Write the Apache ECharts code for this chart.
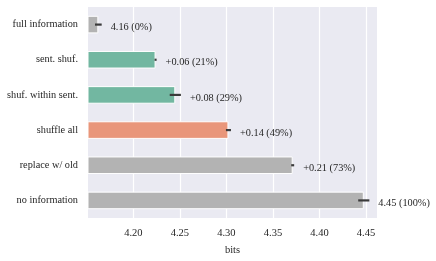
<!DOCTYPE html>
<html><head><meta charset="utf-8">
<script src="https://cdn.jsdelivr.net/npm/echarts@6/dist/echarts.min.js"></script>
<style>html,body{margin:0;padding:0;background:#fff}#c{width:436px;height:261px}</style>
</head><body><div id="c"></div>
<script>
const categories = ["full information","sent. shuf.","shuf. within sent.","shuffle all","replace w/ old","no information"];
const values = [4.1624, 4.2239, 4.2451, 4.3022, 4.3712, 4.4476];
const errors = [0.0036, 0.0011, 0.0060, 0.0027, 0.0016, 0.0060];
const valueLabels = ["4.16 (0%)","+0.06 (21%)","+0.08 (29%)","+0.14 (49%)","+0.21 (73%)","4.45 (100%)"];
const colors = ["#b3b3b3","#72b7a1","#72b7a1","#e9967a","#b3b3b3","#b3b3b3"];
const tickValues = [4.20, 4.25, 4.30, 4.35, 4.40, 4.45];
const axisMin = 4.1513, axisMax = 4.4618;
const FONT = '"Liberation Serif", "DejaVu Serif", serif';

const chart = echarts.init(document.getElementById('c'), null, {renderer:'canvas'});
chart.setOption({
  animation:false,
  backgroundColor:'#ffffff',
  grid:{left:88, right:59, top:7, bottom:40, backgroundColor:'#eaeaf2', show:true, borderWidth:0},
  xAxis:{
    type:'value', min:axisMin, max:axisMax,
    name:'bits', nameLocation:'middle', nameGap:27,
    nameTextStyle:{fontFamily:FONT, fontSize:10.5, color:'#262626'},
    axisLine:{show:false}, axisTick:{show:false, customValues:tickValues},
    axisLabel:{customValues:tickValues, fontFamily:FONT, fontSize:10.5, color:'#262626', margin:10,
      formatter:v=>v.toFixed(2)},
    splitLine:{show:true, lineStyle:{color:'#ffffff', width:1.2}}
  },
  yAxis:{
    type:'category', data:categories, inverse:true,
    axisLine:{show:false}, axisTick:{show:false},
    axisLabel:{fontFamily:FONT, fontSize:10.3, color:'#262626', margin:10},
    splitLine:{show:false}
  },
  series:[
    {
      type:'bar', barWidth:'50%',
      data: values.map((v,i)=>({value:v, itemStyle:{color:colors[i], borderColor:'#ffffff', borderWidth:1}})),
      z:2
    },
    {
      type:'custom', z:5,
      data: values.map((v,i)=>[i, v, errors[i], valueLabels[i]]),
      renderItem:(params, api)=>{
        const i = api.value(0), v = api.value(1), e = api.value(2);
        const lo = api.coord([v-e, i]);
        const hi = api.coord([v+e, i]);
        const lab = valueLabels[i];
        return {type:'group', children:[
          {type:'line', shape:{x1:lo[0], y1:lo[1], x2:Math.max(hi[0], lo[0]+2), y2:hi[1]},
           style:{stroke:'#3a3a3a', lineWidth:2.2}},
          {type:'text', x:hi[0]+9, y:hi[1]+3,
           style:{text:lab, fill:'#262626', font:'10.3px '+FONT, textAlign:'left', textVerticalAlign:'middle'}}
        ]};
      }
    }
  ]
});
</script></body></html>
